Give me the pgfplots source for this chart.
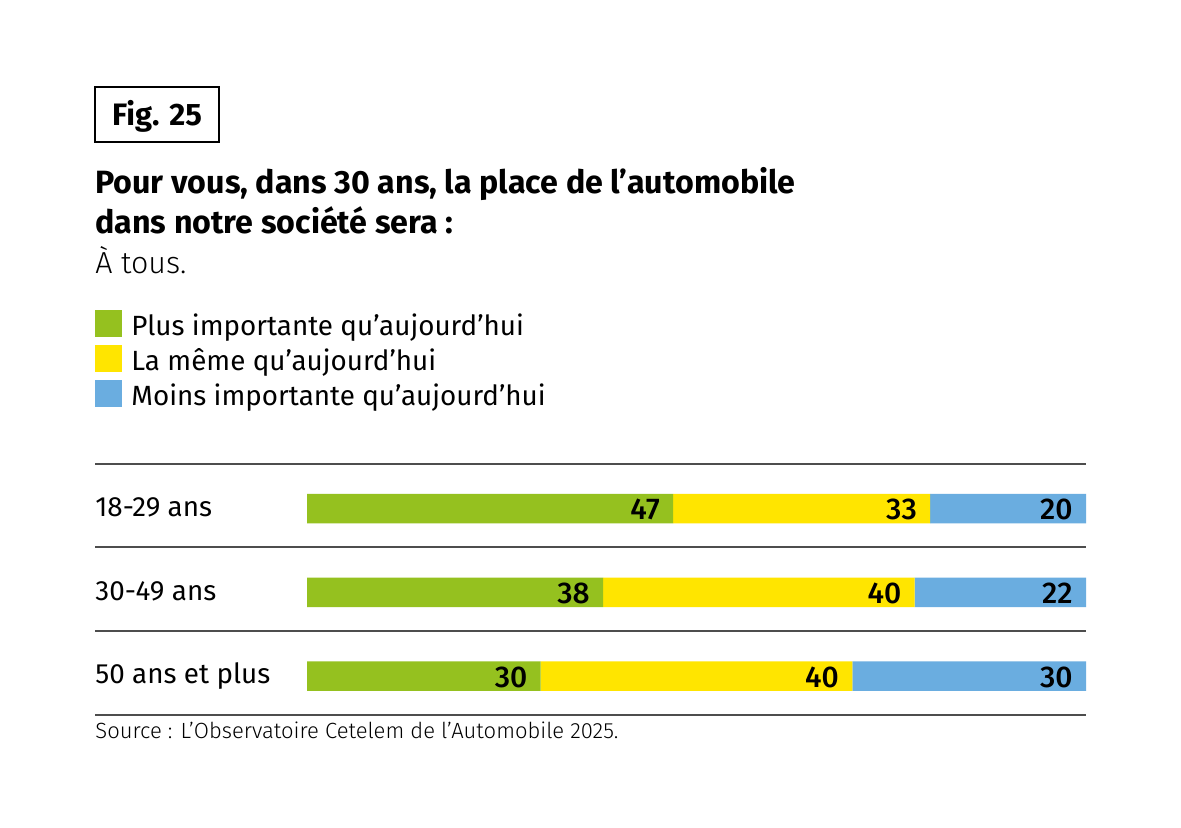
\documentclass[border=0pt]{standalone}
\usepackage{fontspec}
\setmainfont{Fira Sans}
\newfontfamily\firalight{Fira Sans Light}
\newfontfamily\firamed{Fira Sans Medium}
\usepackage{pgfplots}
\pgfplotsset{compat=1.18}

\definecolor{cgreen}{RGB}{149,193,31}
\definecolor{cyellow}{RGB}{255,229,0}
\definecolor{cblue}{RGB}{106,173,224}
\definecolor{rule}{RGB}{77,77,77}

\tikzset{vlab/.style={anchor=east, inner sep=0pt, xshift=-6.5pt, yshift=-0.4pt, text=black,
    font=\fontsize{15}{18}\selectfont\firamed}}

\begin{document}
\begin{tikzpicture}
% page: 1181x827 px at 0.5pt per px
\fill[white] (0,0) rectangle (590.5pt,413.5pt);

% figure tag
\draw[line width=0.9pt, black] (47.5pt,342.5pt) rectangle (109.5pt,370pt);
\node[anchor=base, inner sep=0] at (78.5pt,351pt) {\fontsize{15.5}{18}\selectfont\bfseries Fig. 25};

% title
\node[anchor=base west, inner sep=0] at (47.5pt,317pt) {\fontsize{16.1}{19}\selectfont\bfseries Pour vous, dans 30 ans, la place de l’automobile};
\node[anchor=base west, inner sep=0] at (47.5pt,297pt) {\fontsize{16.1}{19}\selectfont\bfseries dans notre société sera :};
\node[anchor=base west, inner sep=0] at (47.5pt,277pt) {\fontsize{15.2}{18}\selectfont\firalight À tous.};

% legend
\fill[cgreen]  (47.5pt,245pt)   rectangle (61pt,258.5pt);
\fill[cyellow] (47.5pt,227.5pt) rectangle (61pt,241pt);
\fill[cblue]   (47.5pt,210pt)   rectangle (61pt,223.5pt);
\node[anchor=base west, inner sep=0] at (65.5pt,246pt)   {\fontsize{13.9}{17}\selectfont Plus importante qu’aujourd’hui};
\node[anchor=base west, inner sep=0] at (65.5pt,228.5pt) {\fontsize{13.9}{17}\selectfont La même qu’aujourd’hui};
\node[anchor=base west, inner sep=0] at (65.5pt,211pt)   {\fontsize{13.9}{17}\selectfont Moins importante qu’aujourd’hui};

% separating rules
\foreach \yy in {181.5,140,98,56}
  \draw[rule, line width=0.75pt] (47.5pt,\yy pt) -- (543pt,\yy pt);

% category labels
\node[anchor=base west, inner sep=0] at (47.5pt,155.5pt) {\fontsize{13.9}{16}\selectfont 18-29 ans};
\node[anchor=base west, inner sep=0] at (47.5pt,113.5pt) {\fontsize{13.9}{16}\selectfont 30-49 ans};
\node[anchor=base west, inner sep=0] at (47.5pt,72pt)    {\fontsize{13.9}{16}\selectfont 50 ans et plus};

\begin{axis}[
    at={(153.5pt,181.5pt)}, anchor=north west,
    width=389.5pt, height=125.5pt, scale only axis,
    hide axis,
    xbar stacked, bar width=14.75pt,
    xmin=0, xmax=100,
    ymin=-0.534, ymax=2.463, y dir=reverse,
    clip=false,
]
\addplot[draw=none, fill=cgreen]  coordinates {(47,0) (38,1) (30,2)};
\addplot[draw=none, fill=cyellow] coordinates {(33,0) (40,1) (40,2)};
\addplot[draw=none, fill=cblue]   coordinates {(20,0) (22,1) (30,2)};
% ends of the segments, for the value labels
\coordinate (a1) at (axis cs:47,0);
\coordinate (a2) at (axis cs:80,0);
\coordinate (a3) at (axis cs:100,0);
\coordinate (b1) at (axis cs:38,1);
\coordinate (b2) at (axis cs:78,1);
\coordinate (b3) at (axis cs:100,1);
\coordinate (c1) at (axis cs:30,2);
\coordinate (c2) at (axis cs:70,2);
\coordinate (c3) at (axis cs:100,2);
\end{axis}

\node[vlab] at (a1) {47};
\node[vlab] at (a2) {33};
\node[vlab] at (a3) {20};
\node[vlab] at (b1) {38};
\node[vlab] at (b2) {40};
\node[vlab] at (b3) {22};
\node[vlab] at (c1) {30};
\node[vlab] at (c2) {40};
\node[vlab] at (c3) {30};

% source
\node[anchor=base west, inner sep=0] at (47.5pt,44.5pt) {\fontsize{11}{13}\selectfont\firalight Source : L’Observatoire Cetelem de l’Automobile 2025.};
\end{tikzpicture}
\end{document}
